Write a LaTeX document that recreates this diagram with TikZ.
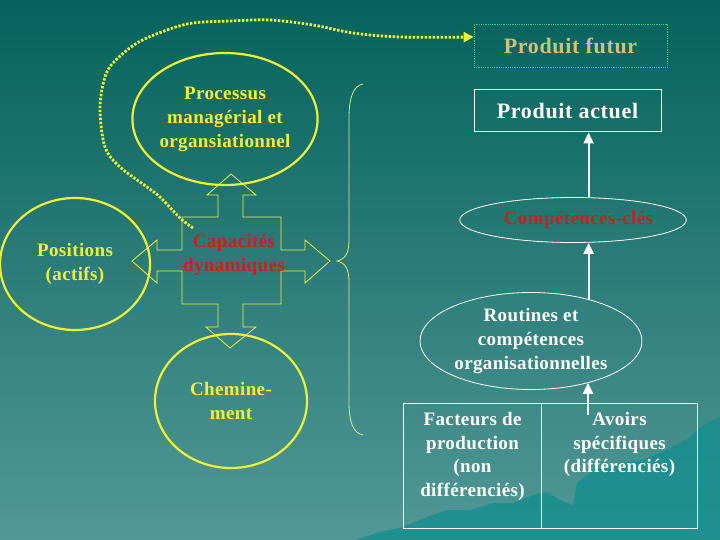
\documentclass[tikz,border=0pt]{standalone}
\usepackage{fontspec}
\setmainfont{Liberation Serif}
\usetikzlibrary{shapes.geometric,arrows.meta}
\definecolor{bgtop}{RGB}{5,98,92}
\definecolor{bgbot}{RGB}{82,152,150}
\definecolor{yel}{RGB}{238,240,55}
\definecolor{bracecol}{RGB}{225,235,120}
\definecolor{redtxt}{RGB}{205,30,30}
\definecolor{tantxt}{RGB}{212,192,120}
\definecolor{dotgreen}{RGB}{60,200,120}
\definecolor{mount}{RGB}{20,142,142}
\newcommand\txt{\fontsize{19}{24}\selectfont\bfseries\addfontfeature{LetterSpace=2}}
\newcommand\bigtxt{\fontsize{22}{26}\selectfont\bfseries\addfontfeature{LetterSpace=3}}
\begin{document}
\begin{tikzpicture}[x=1pt,y=-1pt,
  yell/.style={ellipse,draw=yel,line width=2.2pt,inner sep=0pt,text=yel,align=center,font=\txt},
  wellipse/.style={ellipse,draw=white,line width=0.8pt,inner sep=0pt,align=center,font=\txt},
  wbox/.style={draw=white,line width=1pt,inner sep=0pt},
  warrow/.style={draw=white,line width=2.2pt,-{Triangle[length=11pt,width=10pt]}},
  crossline/.style={draw=yel,line width=0.8pt,line join=miter},
  bracestyle/.style={draw=bracecol,line width=0.8pt},
  dotcurve/.style={draw=yel,line width=2.8pt,dash pattern=on 2.4pt off 1.6pt,-{Triangle[length=10pt,width=10pt]}}
]
\useasboundingbox (0,0) rectangle (720,540);
\shade[top color=bgtop,bottom color=bgbot] (0,0) rectangle (720,540);
% mountains
\fill[mount,opacity=0.8] (355,540) -- (380,532) -- (403,527) -- (427,517) -- (447,510) -- (470,510) -- (493,503) -- (513,503) -- (533,495) -- (547,492) -- (560,500) -- (573,505) -- (577,483) -- (593,470) -- (620,463) -- (643,460) -- (667,450) -- (680,443) -- (690,437) -- (700,427) -- (713,420) -- (720,418) -- (720,540) -- cycle;

% ellipses
\node[yell,minimum width=150,minimum height=132] (proc) at (225,119) {Processus\\managérial et\\organsiationnel};
\node[yell,minimum width=150,minimum height=132] (pos) at (75,264) {Positions\\(actifs)};
\node[yell,minimum width=152,minimum height=134] (chem) at (231,401) {Chemine-\\ment};

% cross arrow
\draw[crossline] (231,174) -- (256,195) -- (243,195) -- (243,217) -- (281,217) -- (281,250) -- (305,250) -- (305,240) -- (330,261) -- (305,283) -- (305,271) -- (281,271) -- (281,304) -- (243,304) -- (243,327) -- (256,327) -- (230,348) -- (206,327) -- (218,327) -- (218,304) -- (182,304) -- (182,271) -- (157,271) -- (157,283) -- (132,261) -- (157,240) -- (157,250) -- (182,250) -- (182,217) -- (218,217) -- (218,195) -- (207,195) -- cycle;
\node[text=redtxt,font=\txt,align=center] (cap) at (234,255) {Capacités\\dynamiques};

% brace
\draw[bracestyle] (363,84) .. controls (353,86) and (349,98) .. (349,118) -- (349,240) .. controls (349,254) and (345,259) .. (337,261) .. controls (345,263) and (349,268) .. (349,282) -- (349,402) .. controls (349,422) and (353,433) .. (363,435);

% right column
\node[draw=dotgreen,densely dotted,line width=0.8pt,minimum width=193,minimum height=43,inner sep=0pt,text=tantxt,font=\bigtxt] (futur) at (570.5,45.5) {Produit futur};
\node[wbox,minimum width=187,minimum height=42,text=white,font=\bigtxt] (actuel) at (567.5,111) {Produit actuel};
\node[wellipse,minimum width=200,minimum height=45,text=redtxt] (comp) at (573,220) {\hspace*{11pt}Compétences-clés};
\node[wellipse,minimum width=222,minimum height=97,text=white] (rout) at (531,341) {Routines et\\compétences\\organisationnelles};
\node[wbox,text=white,anchor=north west] (fact) at (403,403) {\parbox[t][125pt][t]{138pt}{\centering\txt\fontsize{19}{23.5}\selectfont\vspace*{9pt}Facteurs de\\production\\(non\\différenciés)}};
\node[wbox,text=white,anchor=north west] (avoirs) at (541,403) {\parbox[t][125pt][t]{156pt}{\centering\txt\fontsize{19}{23.5}\selectfont\vspace*{9pt}Avoirs\\spécifiques\\(différenciés)}};

% arrows
\coordinate (a0) at (588,415);
\draw[warrow] (a0) -- (a0 |- rout.-36);
\draw[warrow] (rout.36) -- (rout.36 |- comp.south);
\draw[warrow] (rout.36 |- comp.north) -- (rout.36 |- actuel.south);

% dotted curve
\coordinate (cstart) at (193,228);
\coordinate (ftip) at ([yshift=8.5pt]futur.west);
\draw[dotcurve] plot[smooth,tension=0.55] coordinates {(cstart) (180,218) (160,197) (147,187) (120,167) (105,147) (100,110) (104,80) (113,63) (137,43) (167,30) (193,23) (230,21) (270,20) (313,25) (353,33) (400,37) (ftip)};
\end{tikzpicture}
\end{document}
